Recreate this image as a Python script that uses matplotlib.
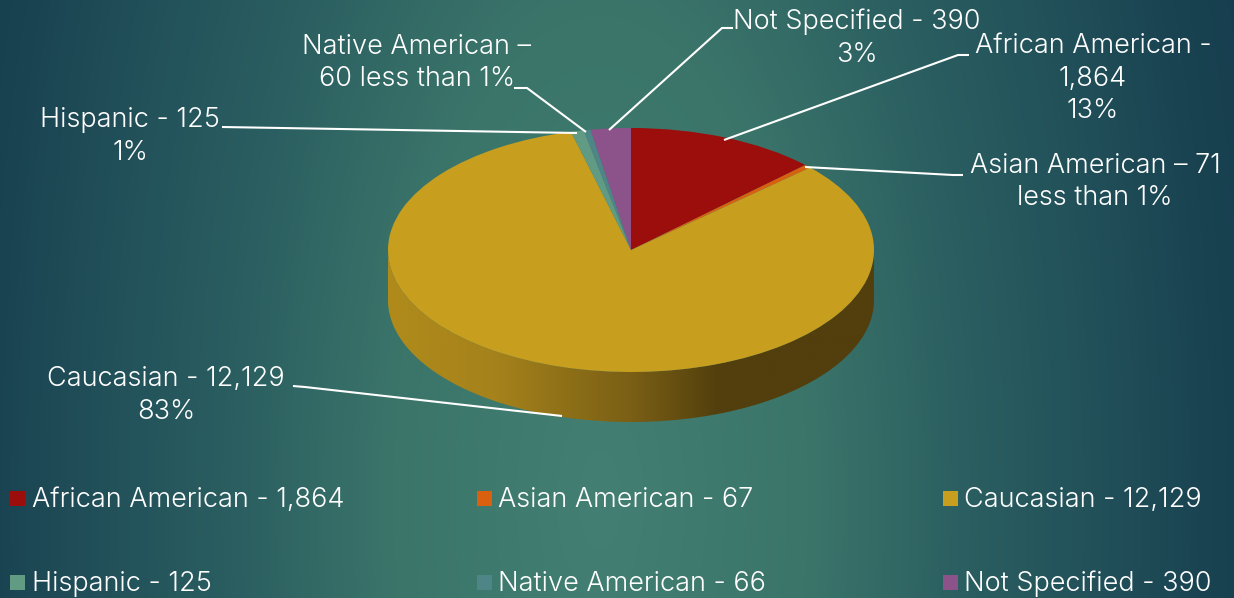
import numpy as np
import matplotlib
matplotlib.use("Agg")
import matplotlib.pyplot as plt
from matplotlib.colors import LinearSegmentedColormap
from matplotlib.patches import Polygon, Rectangle

W, H = 1234, 598
categories = ["African American", "Asian American", "Caucasian", "Hispanic", "Native American", "Not Specified"]
values = [1864, 67, 12129, 125, 66, 390]
colors = ["#9B0E0B", "#D9600F", "#C89E1E", "#629B83", "#4E8586", "#8B5389"]
legend_labels = ["African American - 1,864", "Asian American - 67", "Caucasian - 12,129",
                 "Hispanic - 125", "Native American - 66", "Not Specified - 390"]
callouts = [
    (["Not Specified - 390", "3%"], 857, [20, 53]),
    (["African American -", "1,864", "13%"], 1093, [44, 77, 109]),
    (["Asian American \u2013 71", "less than 1%"], 1095, [164, 196]),
    (["Native American \u2013", "60 less than 1%"], 417, [45, 77]),
    (["Hispanic - 125", "1%"], 130, [118, 151]),
    (["Caucasian - 12,129", "83%"], 166, [377, 410]),
]
leaders = [
    [(609, 130), (722, 28), (733, 28)],
    [(724, 140), (958, 55), (969, 55)],
    [(805, 167), (953, 175), (963, 175)],
    [(586, 132), (527, 88), (514, 88)],
    [(577, 133), (222, 127)],
    [(562, 416), (305, 387), (293, 386)],
]

plt.rcParams["font.family"] = ["Inter", "DejaVu Sans"]
FS = 19.5
WEIGHT = 300
TEXT_DY = 2
fig = plt.figure(figsize=(W / 100, H / 100), dpi=100)

# background
bg = fig.add_axes([0, 0, 1, 1], zorder=0)
bg.set_xlim(0, W); bg.set_ylim(H, 0); bg.axis("off")
yy, xx = np.mgrid[0:H, 0:W]
d = np.sqrt(((xx - 600) / 600.0) ** 2 + ((yy - 500) / 1400.0) ** 2)
bg_cmap = LinearSegmentedColormap.from_list(
    "bg", [(0, "#437F72"), (0.30, "#3B756A"), (0.52, "#2B5F61"), (0.74, "#214F59"),
           (0.87, "#1A4452"), (1, "#163D4E")])
bg.imshow(d, cmap=bg_cmap, vmin=0, vmax=1.15, extent=(0, W, H, 0), aspect="auto", interpolation="bilinear")
bg.set_xlim(0, W); bg.set_ylim(H, 0)

# pie side wall
CX, CY, RX, RY, DEPTH = 631, 250, 243, 122, 50
t = np.linspace(0, np.pi, 200)
ex = CX + RX * np.cos(t)
ey = CY + RY * np.sin(t)
wall = np.r_[np.c_[ex, ey + DEPTH], np.c_[ex[::-1], ey[::-1]]]
poly = Polygon(wall, closed=True, transform=bg.transData, fc="none", ec="none")
bg.add_patch(poly)
wall_cmap = LinearSegmentedColormap.from_list(
    "wall", [(0, "#B08B1B"), (0.22, "#A5821B"), (0.50, "#7A5F15"), (0.68, "#523F0D"), (1, "#523F0D")])
g = np.linspace(0, 1, 256).reshape(1, -1)
im = bg.imshow(g, cmap=wall_cmap, extent=(CX - RX, CX + RX, CY + RY + DEPTH, CY), aspect="auto", zorder=2)
im.set_clip_path(poly)
bg.set_xlim(0, W); bg.set_ylim(H, 0)

# pie top
pa = fig.add_axes([(CX - RX) / W, 1 - (CY + RY) / H, 2 * RX / W, 2 * RY / H], zorder=1)
pa.pie(values, colors=colors, startangle=90, counterclock=False, radius=1)
pa.set_aspect("auto")
pa.set_xlim(-1, 1); pa.set_ylim(-1, 1)
pa.patch.set_alpha(0)

# overlay
ov = fig.add_axes([0, 0, 1, 1], zorder=2)
ov.set_xlim(0, W); ov.set_ylim(H, 0); ov.axis("off"); ov.patch.set_alpha(0)
for pts in leaders:
    a = np.array(pts)
    ov.plot(a[:, 0], a[:, 1], color="white", lw=1.5, solid_capstyle="butt", solid_joinstyle="miter")
for lines, cx, ys in callouts:
    for s, y in zip(lines, ys):
        ov.text(cx, y + TEXT_DY, s, color="white", fontsize=FS, fontweight=WEIGHT, ha="center", va="center")

sq_x = [10, 477, 943]
tx_x = [32, 498, 964]
row_y = [498, 582]
for i, (lab, c) in enumerate(zip(legend_labels, colors)):
    col, row = i % 3, i // 3
    ov.add_patch(Rectangle((sq_x[col], row_y[row] - 7), 15, 15, fc=c, ec="none"))
    ov.text(tx_x[col], row_y[row] + TEXT_DY, lab, color="white", fontsize=FS, fontweight=WEIGHT, ha="left", va="center")

fig.savefig("out.png", dpi=100)
